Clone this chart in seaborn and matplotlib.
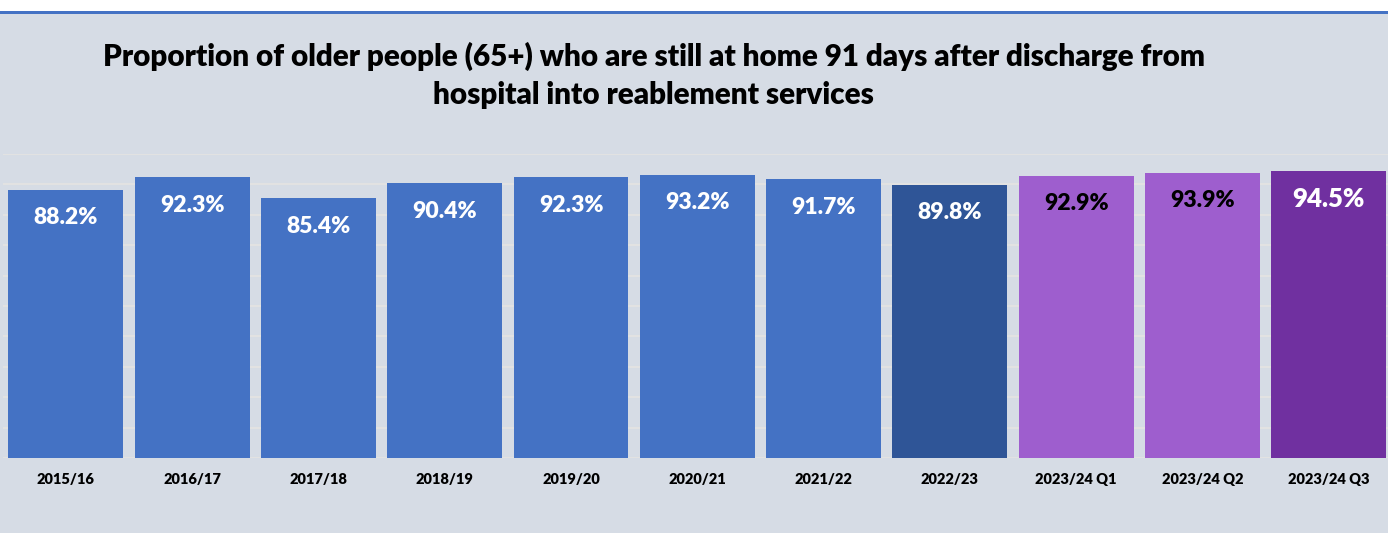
import pandas as pd
import seaborn as sns
import matplotlib.pyplot as plt
from matplotlib.patches import Rectangle

periods = ["2015/16", "2016/17", "2017/18", "2018/19", "2019/20", "2020/21",
           "2021/22", "2022/23", "2023/24 Q1", "2023/24 Q2", "2023/24 Q3"]
values = [88.2, 92.3, 85.4, 90.4, 92.3, 93.2, 91.7, 89.8, 92.9, 93.9, 94.5]
bar_colors = ["#4472C4"] * 7 + ["#2F5597", "#9E5ECE", "#9E5ECE", "#7030A0"]
label_colors = ["white"] * 8 + ["black", "black", "white"]

df = pd.DataFrame({"period": periods, "value": values})

sns.set_style("white")
plt.rcParams['font.family'] = ['Lato', 'DejaVu Sans']
plt.rcParams['text.color'] = 'black'
plt.rcParams['xtick.color'] = 'black'
bg = "#D6DCE5"

fig = plt.figure(figsize=(13.88, 5.33), dpi=100, facecolor=bg)
ax = fig.add_axes([0.002, 0.1407, 0.998, 0.5704])
ax.set_facecolor(bg)

sns.barplot(data=df, x="period", y="value", hue="period", palette=bar_colors,
            width=0.91, legend=False, saturation=1, linewidth=0,
            edgecolor="none", ax=ax, zorder=3)

ax.set_ylim(0, 100)
ax.set_xlim(-0.5, 10.47)
ax.set_yticks(range(0, 101, 10))
ax.yaxis.grid(True, color="#E2E2E2", linewidth=1.5, zorder=0)
ax.set_axisbelow(True)
ax.set_yticklabels([])
ax.tick_params(axis="y", length=0)
ax.tick_params(axis="x", length=0, pad=11, labelsize=10.5, labelcolor="black")
for t in ax.get_xticklabels():
    t.set_fontweight("heavy")
ax.set_xlabel("")
ax.set_ylabel("")
for s in ax.spines.values():
    s.set_visible(False)

for i, (v, c) in enumerate(zip(values, label_colors)):
    size = 18.5 if i == 10 else 16.5
    ax.annotate(f"{v}%", (i, v), xytext=(0, -28), textcoords="offset pixels",
                ha="center", va="center", color=c, fontsize=size,
                fontweight="heavy", zorder=4)

fig.text(0.471, 0.858, "Proportion of older people (65+) who are still at home 91 days after discharge from\nhospital into reablement services",
         ha="center", va="center", fontsize=21.3, fontweight="heavy",
         linespacing=1.45, color="black")

# white strip and blue rule at the top
fig.add_artist(Rectangle((0, 1 - 11 / 533), 1, 11 / 533, transform=fig.transFigure,
                         facecolor="white", edgecolor="none"))
fig.add_artist(Rectangle((0, 1 - 14 / 533), 1, 3 / 533, transform=fig.transFigure,
                         facecolor="#4472C4", edgecolor="none"))

fig.savefig("out.png", dpi=100, facecolor=bg)
